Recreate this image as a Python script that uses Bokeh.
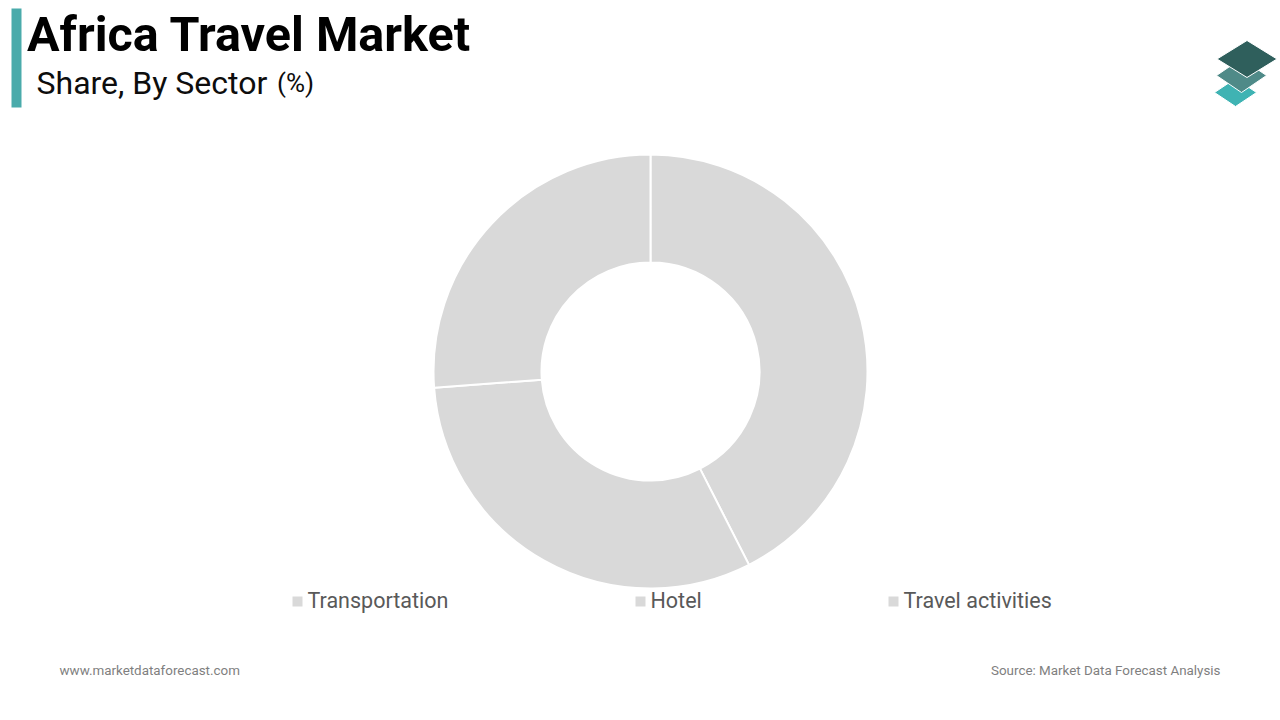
from bokeh.plotting import figure
from bokeh.embed import file_html
from bokeh.resources import INLINE
from bokeh.core.properties import value
import numpy as np

categories = ["Transportation", "Hotel", "Travel activities"]
shares = [42.5, 31.3, 26.2]
legend_x = [292, 635, 888]

p = figure(width=1280, height=720, x_range=(0, 1280), y_range=(0, 720),
           output_backend="svg", toolbar_location=None, min_border=0)
p.axis.visible = False
p.grid.visible = False
p.outline_line_color = None
p.background_fill_color = "white"
p.border_fill_color = "white"

cum = np.cumsum([0] + shares) / sum(shares) * 2 * np.pi
starts = np.pi / 2 - cum[1:]
ends = np.pi / 2 - cum[:-1]
p.annular_wedge(x=650, y=720 - 371, inner_radius=109, outer_radius=217,
                start_angle=starts, end_angle=ends,
                fill_color="#d9d9d9", line_color="white", line_width=2)

# accent bar
p.quad(left=11, right=21, top=720 - 8, bottom=720 - 107, fill_color="#4aabab", line_color=None)

def txt(x, y, s, size, color, style="normal", align="left"):
    p.text(x=[x], y=[720 - y], text=[s], text_font=value("Roboto"), text_font_size=size,
           text_color=color, text_font_style=style, text_align=align, text_baseline="alphabetic")

txt(26.5, 34, "Africa Travel Market", "48.5px", "#000000", "bold")
txt(36, 82, "Share, By Sector", "32px", "#0d0d0d")
txt(276.5, 82, "(%)", "26px", "#0d0d0d")

# legend
for c, lx in zip(categories, legend_x):
    p.quad(left=lx, right=lx + 10, top=720 - 596, bottom=720 - 606, fill_color="#d9d9d9", line_color=None)
    txt(lx + 15, 600, c, "21.5px", "#595959")

txt(59, 669.5, "www.marketdataforecast.com", "13.4px", "#7f7f7f")
txt(1220, 669.5, "Source: Market Data Forecast Analysis", "13.4px", "#7f7f7f", align="right")

# logo
def diamond(cx, cy, hw, hh, color):
    p.patch(x=[cx - hw, cx, cx + hw, cx], y=[720 - cy, 720 - (cy - hh), 720 - cy, 720 - (cy + hh)],
            fill_color=color, line_color="white", line_width=1)

diamond(1235, 92, 21, 14, "#3fb3b3")
diamond(1241, 75, 25, 17, "#4f8a88")
diamond(1246.5, 58.5, 30, 18.5, "#2f5f5c")

open("out.html", "w").write(file_html(p, INLINE))
